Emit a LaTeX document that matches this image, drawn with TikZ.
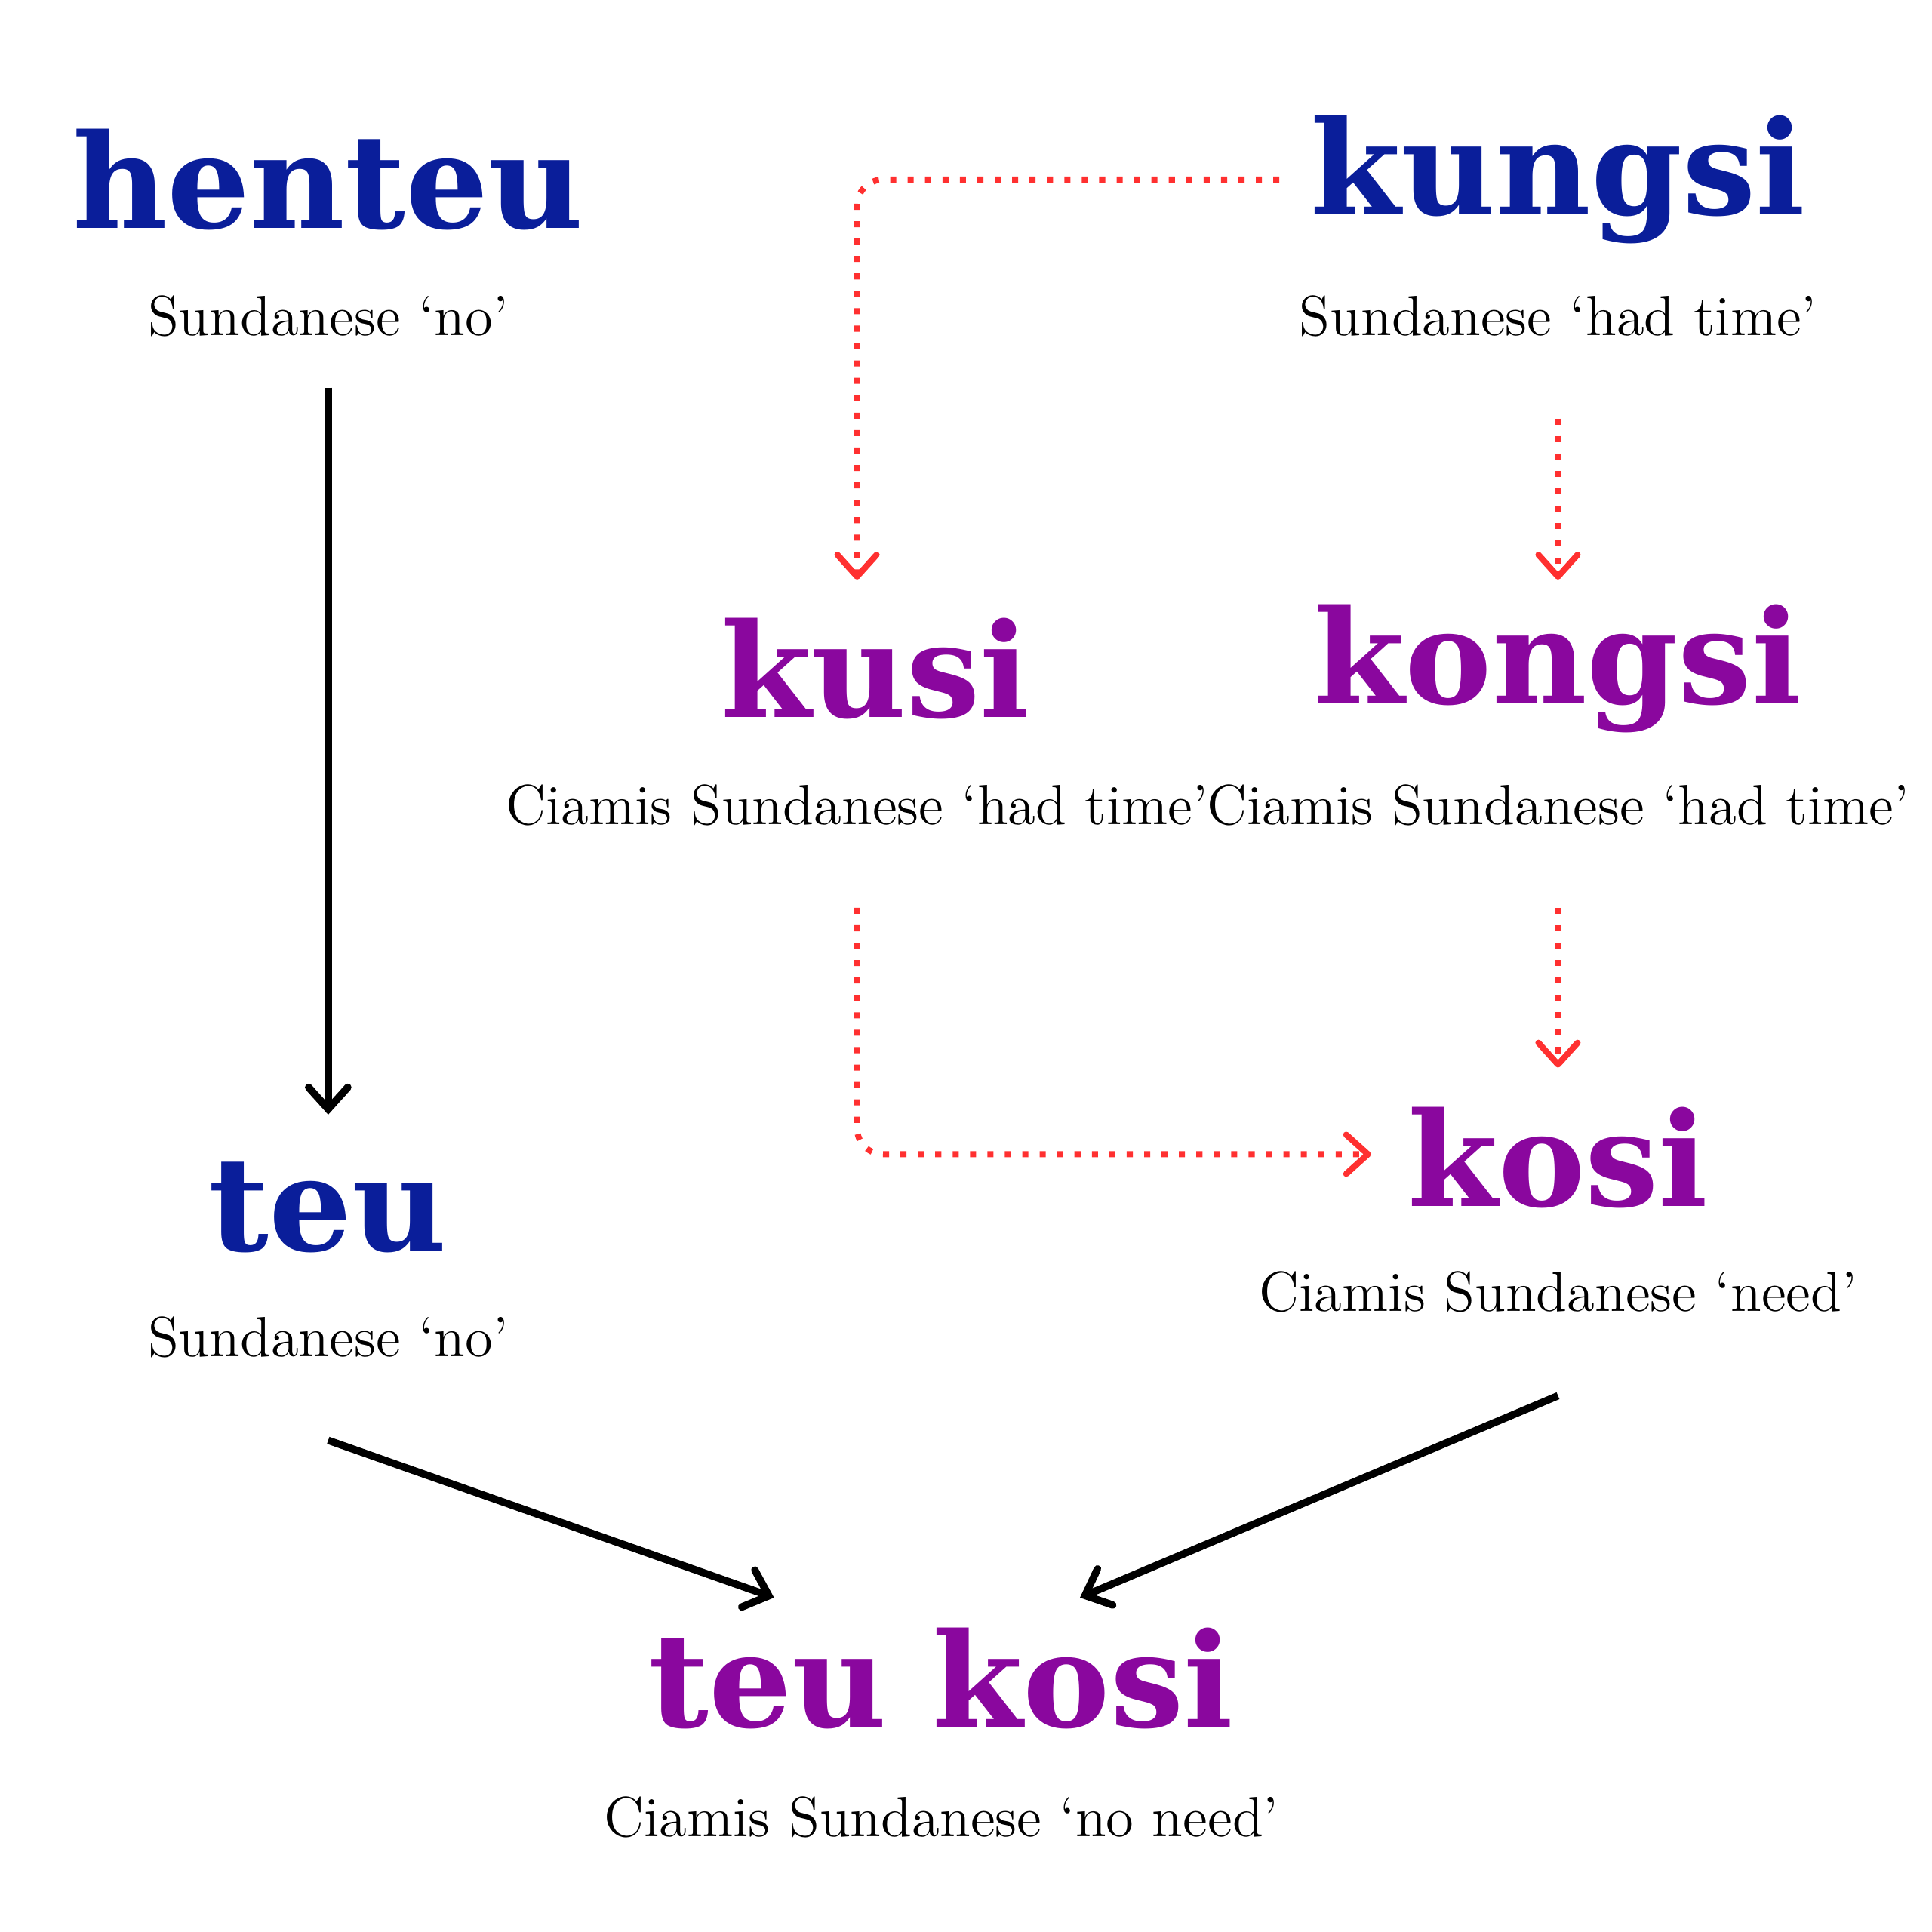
\documentclass[tikz,border=0pt]{standalone}
\usepackage{fontspec}
\newfontfamily\wordfont{DejaVu Serif}
\usetikzlibrary{arrows.meta}
\definecolor{sunblue}{HTML}{0A1E9A}
\definecolor{ciapurple}{HTML}{8A079E}
\definecolor{shiftred}{HTML}{FF3030}
\tikzset{
  word/.style={font=\wordfont\bfseries\fontsize{30}{30}\selectfont},
  gloss/.style={font=\fontsize{13}{13}\selectfont},
  old/.style={word,text=sunblue},
  new/.style={word,text=ciapurple},
  change/.style={line width=1.7pt,-{Straight Barb[length=5pt,width=9pt,line cap=round]}},
  soundshift/.style={shiftred,line width=1.4pt,dash pattern=on 1.4pt off 2.6pt,rounded corners=6pt,
    -{Straight Barb[length=5pt,width=9pt,line cap=round,line join=round]}}
}
\begin{document}
\begin{tikzpicture}
  \useasboundingbox (0,0) rectangle (15.6,-15.6);
  % words and glosses
  \node[old] (henteu) at (2.65,-1.45) {henteu};
  \node[gloss] (hentg) at (2.65,-2.55) {Sundanese ‘no’};
  \node[old] (kungsi) at (12.58,-1.45) {kungsi};
  \node[gloss] (kungg) at (12.58,-2.55) {Sundanese ‘had time’};
  \node[new] (kusi) at (7.07,-5.4) {kusi};
  \node[gloss] (kusig) at (6.92,-6.5) {Ciamis Sundanese ‘had time’};
  \node[new] (kongsi) at (12.58,-5.4) {kongsi};
  \node[gloss] (kongg) at (12.58,-6.5) {Ciamis Sundanese ‘had time’};
  \node[old] (teu) at (2.65,-9.75) {teu};
  \node[gloss] (teug) at (2.65,-10.8) {Sundanese ‘no’};
  \node[new] (kosi) at (12.58,-9.35) {kosi};
  \node[gloss] (kosig) at (12.58,-10.43) {Ciamis Sundanese ‘need’};
  \node[new] (teukosi) at (7.6,-13.55) {teu kosi};
  \node[gloss] (teukg) at (7.6,-14.67) {Ciamis Sundanese ‘no need’};
  % connector ends
  \coordinate (a1) at (2.65,-3.13);  \coordinate (a2) at (2.65,-9.0);
  \coordinate (b1) at (2.65,-11.63); \coordinate (b2) at (6.25,-12.9);
  \coordinate (c1) at (12.58,-11.27);\coordinate (c2) at (8.72,-12.9);
  \coordinate (d1) at (10.33,-1.45); \coordinate (d2) at (6.92,-4.68);
  \coordinate (e1) at (12.58,-3.38); \coordinate (e2) at (12.58,-4.68);
  \coordinate (f1) at (6.92,-7.33);  \coordinate (f2) at (11.07,-9.32);
  \coordinate (g1) at (12.58,-7.33); \coordinate (g2) at (12.58,-8.62);
  \draw[change] (a1) -- (a2);
  \draw[change] (b1) -- (b2);
  \draw[change] (c1) -- (c2);
  \draw[soundshift] (d1) -| (d2);
  \draw[soundshift] (e1) -- (e2);
  \draw[soundshift] (f1) |- (f2);
  \draw[soundshift] (g1) -- (g2);
\end{tikzpicture}
\end{document}
